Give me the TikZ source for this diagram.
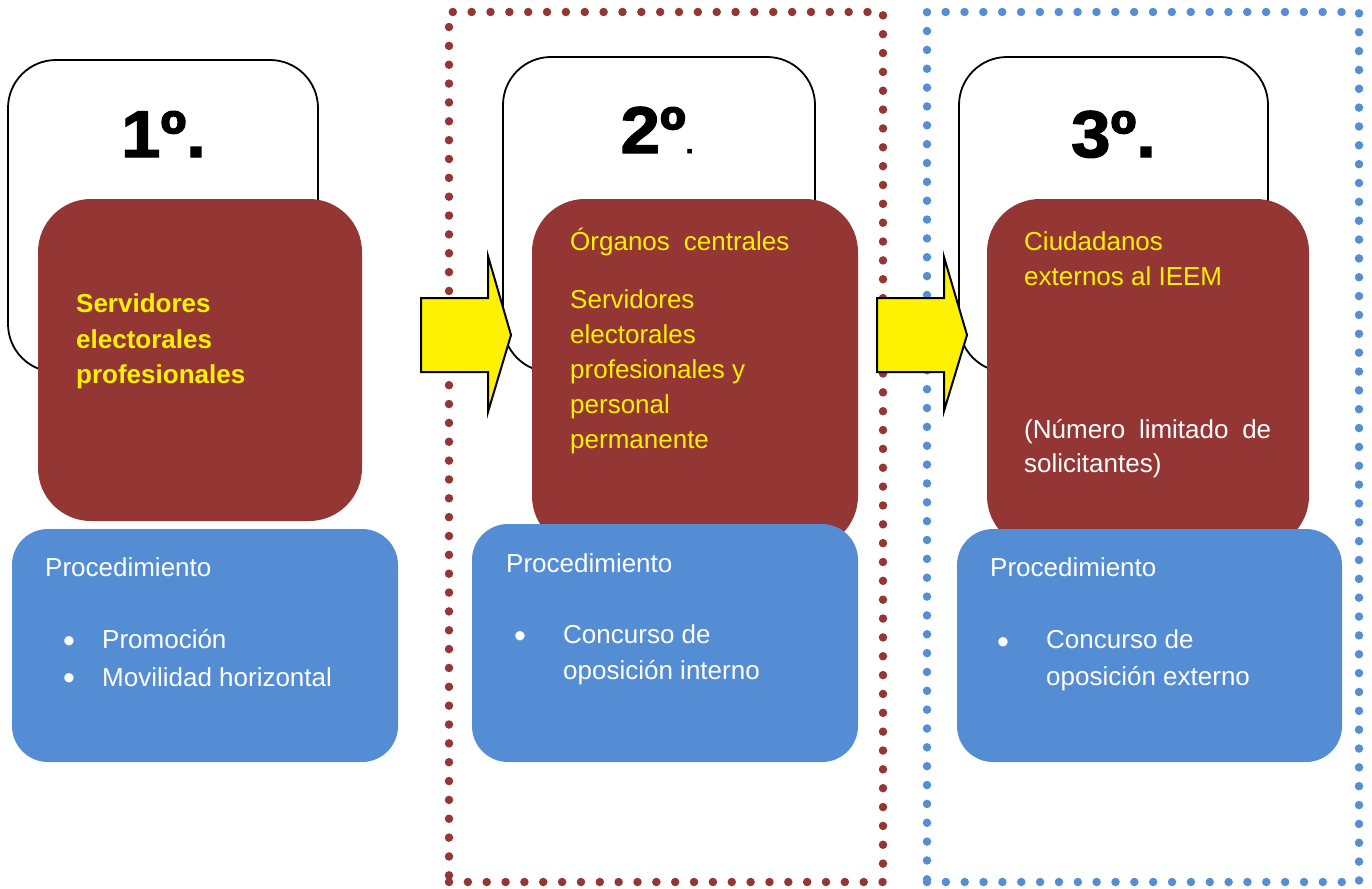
\documentclass[tikz,border=0pt]{standalone}
\usepackage{fontspec}
\setmainfont{Liberation Sans}
\newfontface\numfont{Liberation Sans Bold}[FakeBold=2.2, FakeStretch=1.07]
\definecolor{boxred}{RGB}{148,54,52}
\definecolor{boxblue}{RGB}{84,141,212}
\definecolor{dotred}{RGB}{148,54,52}
\definecolor{dotblue}{RGB}{85,142,213}
\begin{document}
\begin{tikzpicture}[x=1pt,y=-1pt,
  numbox/.style={draw=black, line width=1.8pt, fill=white, rounded corners=48pt, inner sep=0pt, outer sep=0pt, anchor=north west},
  redbox/.style={fill=boxred, rounded corners=53pt, inner sep=0pt, outer sep=0pt, anchor=north west},
  bluebox/.style={fill=boxblue, rounded corners=36pt, inner sep=0pt, outer sep=0pt, anchor=north west},
  dotframe/.style={line width=8.5pt, line cap=round, dash pattern=on 0pt off 18.85pt, inner sep=0pt, outer sep=0pt, anchor=north west},
  yarrow/.style={fill=yellow, draw=black, line width=2pt, line join=miter},
  numtext/.style={anchor=base, inner sep=0pt, font=\fontsize{66}{66}\numfont},
  ytext/.style={anchor=base west, inner sep=0pt, text=yellow, font=\fontsize{26}{30}\selectfont},
  ybold/.style={ytext, font=\fontsize{26}{30}\selectfont\bfseries},
  wtext/.style={anchor=base west, inner sep=0pt, text=white, font=\fontsize{26}{30}\selectfont},
  bullettext/.style={anchor=center, inner sep=0pt, text=white, font=\fontsize{34}{34}\selectfont}
]
\useasboundingbox (0,0) rectangle (1372,888);

% dotted frames
\node[dotframe, draw=dotred, minimum width=434pt, minimum height=870pt] (f2) at (449,12) {};
\node[dotframe, draw=dotblue, minimum width=432pt, minimum height=870pt] (f3) at (927,12) {};

% white number boxes
\node[numbox, minimum width=310pt, minimum height=312pt] (w1) at (8,60) {};
\node[numbox, minimum width=312pt, minimum height=315pt] (w2) at (503,57) {};
\node[numbox, minimum width=309pt, minimum height=315pt] (w3) at (959,57) {};

% arrows
\draw[yarrow] (421,298) -- (488,298) -- (488,256) -- (511,335) -- (488,412) -- (488,372) -- (421,372) -- cycle;
\draw[yarrow] (877,298) -- (944,298) -- (944,257) -- (967,335) -- (944,411) -- (944,372) -- (877,372) -- cycle;

% red boxes
\node[redbox, minimum width=324pt, minimum height=322pt] (r1) at (38,199) {};
\node[redbox, minimum width=326pt, minimum height=350pt] (r2) at (532,199) {};
\node[redbox, minimum width=322pt, minimum height=350pt] (r3) at (987,199) {};

% blue boxes
\node[bluebox, minimum width=386pt, minimum height=233pt] (b1) at (12,529) {};
\node[bluebox, minimum width=386pt, minimum height=238pt] (b2) at (472,524) {};
\node[bluebox, minimum width=385pt, minimum height=233pt] (b3) at (957,529) {};

% numbers
\node[numtext] (n1) at (163.5,157) {1º.};
\node[numtext] (n2) at (657,153) {2º{\fontsize{26}{26}\selectfont.}};
\node[numtext] (n3) at (1113.5,157) {3º.};

% red box 1 text
\node[ybold] (r1a) at (76,312.7) {Servidores};
\node[ybold] (r1b) at (76,348) {electorales};
\node[ybold] (r1c) at (76,383.3) {profesionales};

% red box 2 text
\node[ytext] (r2a) at (570,250.7) {Órganos\hspace{14pt}centrales};
\node[ytext] (r2b) at (570,308.3) {Servidores};
\node[ytext] (r2c) at (570,343.3) {electorales};
\node[ytext] (r2d) at (570,378.3) {profesionales y};
\node[ytext] (r2e) at (570,413.3) {personal};
\node[ytext] (r2f) at (570,448.3) {permanente};

% red box 3 text
\node[ytext] (r3a) at (1024,250.7) {Ciudadanos};
\node[ytext] (r3b) at (1024,285) {externos al IEEM};
\node[wtext] (r3c) at (1024,438.3) {\makebox[247pt][s]{(Número limitado de}};
\node[wtext] (r3d) at (1024,472) {solicitantes)};

% blue box 1 text
\node[wtext] (b1a) at (45,576) {Procedimiento};
\node[bullettext] (b1b) at (69,644.5) {•};
\node[wtext] (b1c) at (102,648) {Promoción};
\node[bullettext] (b1d) at (69,681.5) {•};
\node[wtext] (b1e) at (102,686) {Movilidad horizontal};

% blue box 2 text
\node[wtext] (b2a) at (506,572) {Procedimiento};
\node[bullettext] (b2b) at (520,640) {•};
\node[wtext] (b2c) at (563,643) {Concurso de};
\node[wtext] (b2d) at (563,679.3) {oposición interno};

% blue box 3 text
\node[wtext] (b3a) at (990,576) {Procedimiento};
\node[bullettext] (b3b) at (1003,645.5) {•};
\node[wtext] (b3c) at (1046,648) {Concurso de};
\node[wtext] (b3d) at (1046,685) {oposición externo};
\end{tikzpicture}
\end{document}
